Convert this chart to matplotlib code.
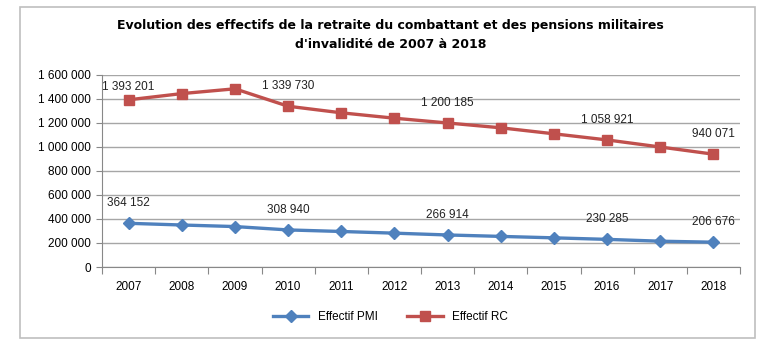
import numpy as np
import matplotlib.pyplot as plt
from matplotlib.patches import Rectangle
from matplotlib.ticker import FuncFormatter, FixedLocator

years = ['2007', '2008', '2009', '2010', '2011', '2012',
         '2013', '2014', '2015', '2016', '2017', '2018']
pmi = [364152, 350000, 337000, 308940, 296000, 282000,
       266914, 255000, 243000, 230285, 215000, 206676]
rc = [1393201, 1445000, 1485000, 1339730, 1285000, 1240000,
      1200185, 1160000, 1110000, 1058921, 1000000, 940071]
labelled = [0, 3, 6, 9, 11]

title = ("Evolution des effectifs de la retraite du combattant et des pensions militaires\n"
         "d'invalidité de 2007 à 2018")

plt.rcParams['font.family'] = ['Liberation Sans', 'DejaVu Sans']

BLUE = '#4F81BD'
RED = '#C0504D'


def fmt(v, pos=None):
    return f'{int(v):,}'.replace(',', ' ')


fig = plt.figure(figsize=(7.81, 3.51), dpi=100)
ax = fig.add_axes([102 / 781, 1 - 267 / 351, 638 / 781, 192 / 351])

# outer chart border
fig.patches.append(Rectangle((20 / 781, 1 - 338 / 351), 735 / 781, 331 / 351,
                             transform=fig.transFigure, fill=False,
                             edgecolor='#BFBFBF', linewidth=1.2))

x = np.arange(len(years))
ax.plot(x, pmi, color=BLUE, marker='D', markersize=6, linewidth=2.4, label='Effectif PMI')
ax.plot(x, rc, color=RED, marker='s', markersize=7, linewidth=2.4, label='Effectif RC')

for i in labelled:
    ax.annotate(fmt(pmi[i]), (x[i], pmi[i]), xytext=(0, 10), textcoords='offset points',
                ha='center', va='bottom', fontsize=8.5, color='#222222')
    dy = 5 if i == 0 else 10
    ax.annotate(fmt(rc[i]), (x[i], rc[i]), xytext=(0, dy), textcoords='offset points',
                ha='center', va='bottom', fontsize=8.5, color='#222222')

ax.set_xlim(-0.5, len(years) - 0.5)
ax.set_ylim(0, 1600000)
ax.set_yticks(np.arange(0, 1600001, 200000))
ax.yaxis.set_major_formatter(FuncFormatter(fmt))
ax.grid(axis='y', color='#A6A6A6', linewidth=1)
ax.set_axisbelow(True)

ax.xaxis.set_major_locator(FixedLocator(np.arange(-0.5, len(years), 1.0)))
ax.xaxis.set_major_formatter(FuncFormatter(lambda v, p: ''))
ax.xaxis.set_minor_locator(FixedLocator(x))
ax.set_xticklabels(years, minor=True)
ax.tick_params(axis='x', which='major', direction='out', length=5, color='#888888')
ax.tick_params(axis='x', which='minor', length=0, pad=10, labelsize=8.5)
ax.tick_params(axis='y', length=4, direction='out', color='#888888', labelsize=8.5, pad=4)

for s in ['top', 'right']:
    ax.spines[s].set_visible(False)
ax.spines['left'].set_color('#888888')
ax.spines['bottom'].set_color('#888888')

fig.text(0.5, 1 - 35 / 351, title, ha='center', va='center', fontsize=9,
         fontweight='bold', linespacing=1.7, family=['Liberation Sans Narrow', 'DejaVu Sans'])

fig.legend(loc='center', bbox_to_anchor=(0.5, 1 - 317 / 351), ncol=2, frameon=False,
           fontsize=8.5, handlelength=3, columnspacing=2.5)

fig.savefig('out.png', dpi=100)
